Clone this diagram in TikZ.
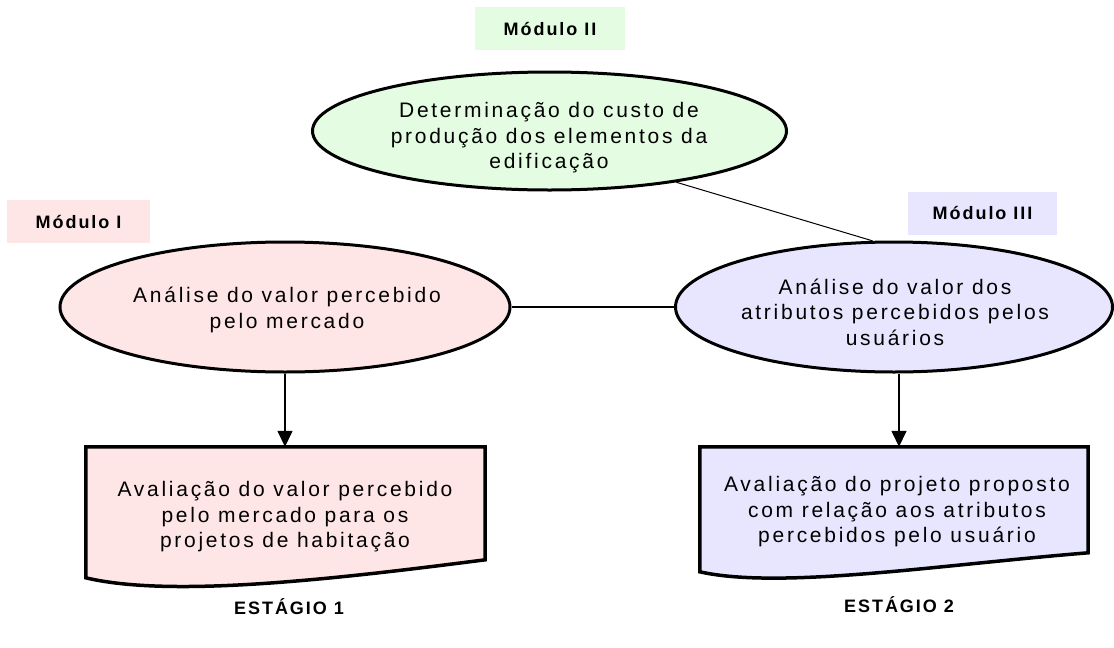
\documentclass[tikz,border=0pt]{standalone}
\usepackage{fontspec}
\setmainfont{Liberation Sans}
\newfontfamily\txtfont[LetterSpace=13]{Liberation Sans}
\newfontfamily\labfont[LetterSpace=11]{Liberation Sans}
\usetikzlibrary{shapes.geometric,arrows.meta,calc}
\definecolor{pinkf}{HTML}{FFE6E6}
\definecolor{greenf}{HTML}{E4FDE2}
\definecolor{purplef}{HTML}{E8E6FF}
\begin{document}
\begin{tikzpicture}[x=1pt,y=-1pt,
  ell/.style={ellipse, draw, line width=3pt, inner sep=0pt},
  bodytext/.style={inner sep=0pt, align=center,
    font=\txtfont\fontsize{21}{25.5}\selectfont},
  modbox/.style={inner sep=0pt, minimum height=43pt,
    font=\labfont\bfseries\fontsize{18}{20}\selectfont},
  stagelab/.style={inner sep=0pt, font=\labfont\bfseries\fontsize{18}{20}\selectfont},
  docbox/.style={inner sep=0pt},
  conn/.style={line width=1.5pt},
  arr/.style={conn, -{Triangle[length=16pt,width=15pt]}},
  docline/.style={line width=3.5pt, line join=miter}
]
\useasboundingbox (0,0) rectangle (1114,648);

% module labels
\node[modbox, fill=greenf, minimum width=150pt] (m2) at (550,28.5) {Módulo II};
\node[modbox, fill=pinkf, minimum width=143pt] (m1) at (78.5,221.5) {Módulo I};
\node[modbox, fill=purplef, minimum width=149pt] (m3) at (982.5,213) {Módulo III};

% ellipses
\node[ell, fill=greenf, minimum width=474pt, minimum height=118pt] (green) at (549.5,131) {};
\node[ell, fill=pinkf, minimum width=450pt, minimum height=130pt] (pink) at (285,307) {};
\node[ell, fill=purplef, minimum width=437pt, minimum height=130pt] (purple) at (894,307) {};
\node[bodytext] (greent) at (549,138)
  {Determinação do custo de\\produção dos elementos da\\edificação};
\node[bodytext] (pinkt) at (287,310)
  {Análise do valor percebido\\pelo mercado};
\node[bodytext] (purplet) at (895,312)
  {Análise do valor dos\\atributos percebidos pelos\\usuários};

% documents
\node[docbox, minimum width=399pt, minimum height=134pt] (d1) at (285.5,514) {};
\node[docbox, minimum width=388pt, minimum height=128pt] (d2) at (894,511) {};
\draw[docline, fill=pinkf] (d1.north west) -- (d1.north east)
  -- ($(d1.north east)+(0,113)$)
  .. controls ($(d1.north west)+(244,133)$) and ($(d1.north west)+(84,151)$) ..
  ($(d1.north west)+(0,131)$) -- cycle;
\draw[docline, fill=purplef] (d2.north west) -- (d2.north east)
  -- ($(d2.north east)+(0,106)$)
  .. controls ($(d2.north west)+(240,118)$) and ($(d2.north west)+(80,143)$) ..
  ($(d2.north west)+(0,125)$) -- cycle;
\node[bodytext] (d1t) at (285,517)
  {Avaliação do valor percebido\\pelo mercado para os\\projetos de habitação};
\node[bodytext] (d2t) at (897,512)
  {Avaliação do projeto proposto\\com relação aos atributos\\percebidos pelo usuário};

% stage labels
\node[stagelab] (s1) at (289,607) {ESTÁGIO 1};
\node[stagelab] (s2) at (899,605) {ESTÁGIO 2};

% connectors
\draw[line width=1pt] (green.-22) -- (purple.108);
\draw[conn] (pink.east) -- (purple.west);
\draw[arr] (pink.south) -- (pink.south |- d1.north);
\draw[arr] ($(purple.south)+(5,0)$) -- ($(purple.south |- d2.north)+(5,0)$);
\end{tikzpicture}
\end{document}
